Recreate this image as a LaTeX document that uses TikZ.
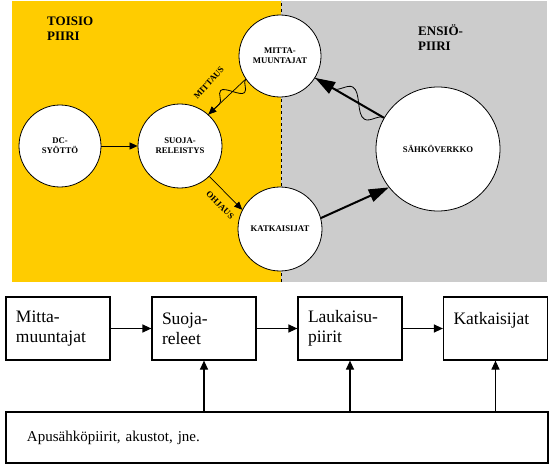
\documentclass[tikz,border=0pt]{standalone}
\usepackage{fontspec}
\setmainfont{Liberation Serif}
\usetikzlibrary{arrows.meta,decorations.pathmorphing}
\definecolor{keltainen}{HTML}{FFCC00}
\definecolor{harmaa}{HTML}{CCCCCC}
\begin{document}
\begin{tikzpicture}[x=1pt, y=1pt,
        ympyra/.style={circle, draw, line width=0.8pt, fill=white, inner sep=0pt, align=center,
            font=\bfseries\fontsize{8.7}{10}\selectfont},
        otsikko/.style={anchor=north west, inner sep=0pt, align=left,
            font=\bfseries\fontsize{13}{15}\selectfont},
        nimio/.style={inner sep=0pt, font=\bfseries\fontsize{8.7}{10}\selectfont},
        lohko/.style={draw, line width=1.2pt, minimum width=104pt, minimum height=63pt,
            text width=84pt, inner xsep=10pt, align=left, font=\fontsize{17.5}{20}\selectfont},
        ohut/.style={-{Triangle[length=8pt,width=7pt]}, line width=0.7pt},
        paksu/.style={-{Triangle[length=20pt,width=13pt]}, line width=2pt},
        nuoli/.style={-{Triangle[length=9pt,width=8pt]}, line width=1.2pt},
        aalto/.style={line width=0.8pt, decorate, decoration={snake, amplitude=#1}}]
    \useasboundingbox (0,0) rectangle (555,467);

    % taustat
    \fill[keltainen] (12,185) rectangle (281,466);
    \fill[harmaa] (281,185) rectangle (547,466);
    \draw[dashed, line width=0.5pt] (281,185) -- (281,467);

    \node (toisio) [otsikko] at (47,450) {TOISIO\\PIIRI};
    \node (ensio) [otsikko] at (418,443) {ENSIÖ-\\PIIRI};

    % ylempi kuva
    \node (dc) [ympyra, minimum size=82pt] at (60,321) {DC-\\SYÖTTÖ};
    \node (suoja) [ympyra, minimum size=84pt] at (180,321) {SUOJA-\\RELEISTYS};
    \node (mitta) [ympyra, minimum size=82pt] at (280,411) {MITTA-\\MUUNTAJAT};
    \node (katk) [ympyra, minimum size=84pt] at (280,238) {KATKAISIJAT};
    \node (verkko) [ympyra, minimum size=124pt] at (438,318) {SÄHKÖVERKKO};

    \draw[ohut] (dc) -- (suoja);
    \draw[ohut] (mitta.214) -- (suoja.48);
    \draw[aalto=9pt, decoration={segment length=32pt}] (mitta.214) -- (suoja.48);
    \draw[ohut] (suoja.314) -- (katk.153);
    \draw[paksu] (verkko.150) -- (mitta.328);
    \draw[aalto=11pt, decoration={segment length=52pt}] (verkko.150) -- (mitta.328);
    \draw[paksu] (katk.15) -- (verkko.218);

    \node (mittaus) [nimio, rotate=48] at (209,384) {MITTAUS};
    \node (ohjaus) [nimio, rotate=-45] at (220,262) {OHJAUS};

    % alempi kuva
    \node (mm) [lohko] at (58,138.5) {Mitta-\\muuntajat};
    \node (sr) [lohko] at (204,138.5) {Suoja-\\releet};
    \node (lp) [lohko] at (350,138.5) {Laukaisu-\\piirit};
    \node (kk) [lohko] at (495.5,138.5) {Katkaisijat\\ \mbox{}};
    \node (apu) [draw, line width=1.2pt, minimum width=542pt, minimum height=51pt,
        text width=500pt, inner xsep=21pt, align=left, font=\fontsize{15}{18}\selectfont]
        at (277,29.5) {Apusähköpiirit, akustot, jne.};

    \draw[nuoli] (mm) -- (sr);
    \draw[nuoli] (sr) -- (lp);
    \draw[nuoli] (lp) -- (kk);
    \draw[nuoli] (apu.north -| sr.south) -- (sr.south);
    \draw[nuoli] (apu.north -| lp.south) -- (lp.south);
    \draw[nuoli] (apu.north -| kk.south) -- (kk.south);
\end{tikzpicture}
\end{document}
